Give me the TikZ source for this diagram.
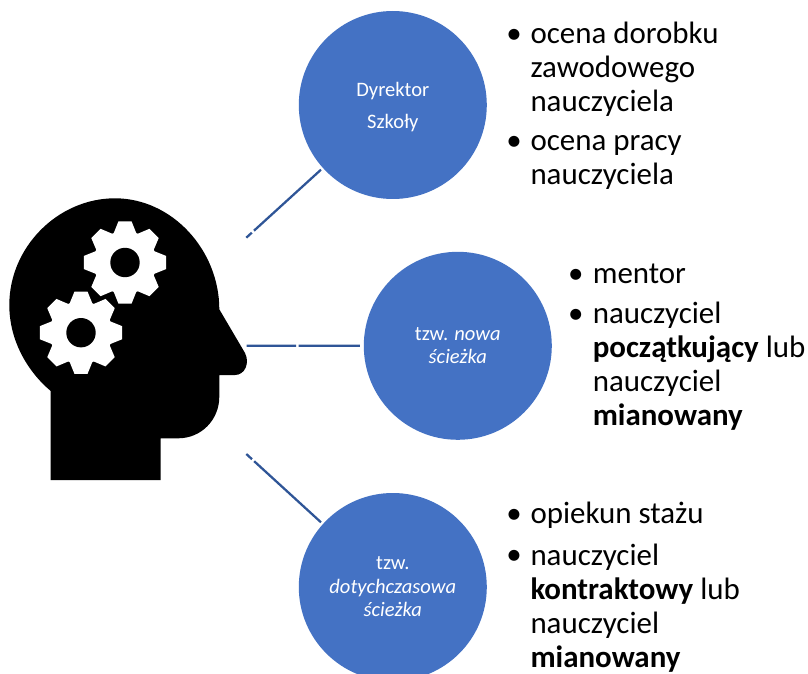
\documentclass[tikz,border=0pt]{standalone}
\usepackage{fontspec}
\setmainfont{Carlito}
\begin{document}
\begin{tikzpicture}[x=.75pt,y=-.75pt,
  disc/.style={circle,fill=discblue,draw=none,text=white,minimum size=141pt,inner sep=0pt,outer sep=0pt,align=center},
  small/.style={font=\fontsize{15.4}{23.6}\selectfont},
  smaller/.style={font=\fontsize{15.4}{17.6}\selectfont},
  item/.style={anchor=base west,align=left,inner sep=0pt,outer sep=0pt,text=black,font=\fontsize{23.2}{25.5}\selectfont},
  dot/.style={anchor=base,inner sep=0pt,outer sep=0pt,font=\fontsize{23.2}{25.5}\selectfont},
  link/.style={draw=linkblue,line width=1.7pt}]
\definecolor{discblue}{HTML}{4472C4}
\definecolor{linkblue}{HTML}{2F5597}
\clip (0,0) rectangle (808,674);
\fill[white] (0,0) rectangle (808,674);
% head
\fill[black] (50.7,480) -- (160.7,480) -- (160.7,438.3) -- (178.3,438.3)
  .. controls (201,438.3) and (219.3,420) .. (219.3,396.7)
  -- (219.3,375) -- (235,375)
  .. controls (245,375) and (250,363) .. (245,353)
  -- (219.3,309.3)
  .. controls (219.3,250) and (172,198.3) .. (115,198.3)
  .. controls (58,198.3) and (9.3,247) .. (9.3,305)
  .. controls (9.3,340) and (27,371) .. (50.7,391) -- cycle;
% gears
\foreach \cx/\cy in {125/262.5,81/332.7}{
  \begin{scope}[shift={(\cx,\cy)}]
    \fill[white,line join=round] (-21:31.5)
      \foreach \a in {0,45,...,315}{
        -- (\a-21:31.5) -- (\a-9:41.7) -- (\a+9:41.7) -- (\a+21:31.5)
      } -- cycle;
    \fill[black] (0,0) circle[radius=14.7];
  \end{scope}
}
% discs
\node[disc,small] (c1) at (392.8,105) {\rule{0pt}{13.4pt}Dyrektor\\Szkoły};
\node[disc,smaller] (c2) at (457.8,345.8) {tzw. \textit{nowa}\\\textit{ścieżka}};
\node[disc,smaller] (c3) at (392.8,587) {tzw.\\\textit{dotychczasowa}\\\textit{ścieżka}};
% connector ends
\coordinate (h1) at (246.3,237.7);
\coordinate (h2) at (246.7,345.7);
\coordinate (h3) at (246.3,454);
\draw[link,dash pattern=on 5.6pt off 2.2pt on 200pt,shorten >=2pt] (h1) -- (c1.222);
\draw[link,dash pattern=on 37pt off 1.9pt on 200pt,shorten >=3pt] (h2) -- (c2.180);
\draw[link,dash pattern=on 5.8pt off 2.2pt on 200pt,shorten >=2pt] (h3) -- (c3.138);
% lists
\node[dot] (b1) at (514,43.8) {•};
\node[item] (t1) at (530.5,111.5) {ocena dorobku\\zawodowego\\nauczyciela};
\node[dot] (b2) at (514,150.5) {•};
\node[item] (t2) at (530.5,184.5) {ocena pracy\\nauczyciela};
\node[dot] (b3) at (575.7,283.5) {•};
\node[item] (t3) at (592.8,283.5) {mentor};
\node[dot] (b4) at (575.7,323.8) {•};
\node[item] (t4) at (592.8,425.5) {nauczyciel\\\textbf{początkujący} lub\\nauczyciel\\\textbf{mianowany}};
\node[dot] (b5) at (514,523.8) {•};
\node[item] (t5) at (530.5,523.8) {opiekun stażu};
\node[dot] (b6) at (514,564.5) {•};
\node[item] (t6) at (530.5,667.2) {nauczyciel\\\textbf{kontraktowy} lub\\nauczyciel\\\textbf{mianowany}};
\end{tikzpicture}
\end{document}
